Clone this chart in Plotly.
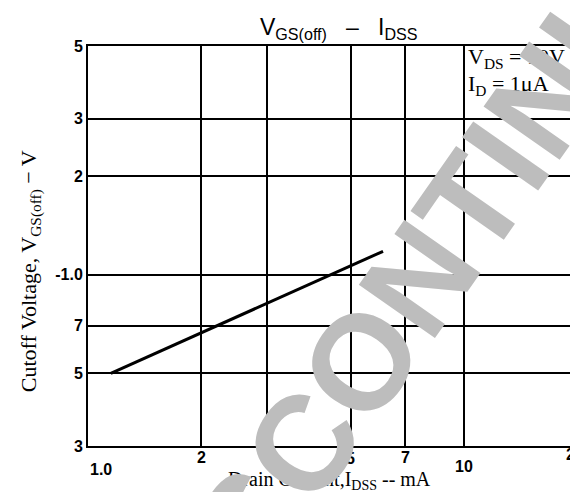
import math
import plotly.graph_objects as go

# ---- data ----
idss_ma = [1.15, 6.1]          # Drain current I_DSS (mA)
vgs_off = [0.5, 1.18]          # Cutoff voltage |V_GS(off)| (V)

x_tickvals = [1, 2, 3, 5, 7, 10, 20]
x_ticktext = ["1.0", "2", "3", "5", "7", "10", "2"]
y_tickvals = [0.3, 0.5, 0.7, 1.0, 2, 3, 5]
y_ticktext = ["3", "5", "7", "-1.0", "2", "3", "5"]

title_text = "V<sub>GS(off)</sub>\u00a0\u00a0\u00a0\u2013\u00a0\u00a0\u00a0I<sub>DSS</sub>"
x_title = "Drain Current,I<sub>DSS</sub> -- mA"
y_title = "Cutoff Voltage, V<sub>GS(off)</sub> \u2212 V"
cond_lines = ["V<sub>DS</sub> = 10V", "I<sub>D</sub> = 1\u03bcA"]
watermark = "DISCONTINUED"

# ---- layout / style (pixel positions of the scanned labels) ----
x_label_py = [461, 449, 450, 450, 449, 458, 446]
x_label_anchor = ["left", "center", "center", "center", "center", "center", "right"]

W, H = 578, 492
L, R, T, B = 80, 6, 38, 54
pw, ph = W - L - R, H - T - B

def px(xp):
    return (xp - L) / pw

def py(yp):
    return (H - B - yp) / ph

fig = go.Figure()
fig.add_trace(go.Scatter(x=idss_ma, y=vgs_off, mode="lines",
                         line=dict(color="black", width=3), showlegend=False))

tickfont = dict(family="Liberation Sans, Arial", size=16, color="black", weight="bold")
axis_style = dict(type="log", showgrid=True, gridcolor="black", gridwidth=1.5,
                  showline=True, linecolor="black", linewidth=2, mirror=True,
                  ticks="", tickfont=tickfont, zeroline=False)
fig.update_xaxes(range=[0, math.log10(20.15)], tickvals=x_tickvals,
                 showticklabels=False, **axis_style)
fig.update_yaxes(range=[math.log10(0.3), math.log10(5)], tickvals=y_tickvals,
                 ticktext=y_ticktext, **axis_style)

# x tick labels placed on the axis values
for v, t, yp, anc in zip(x_tickvals, x_ticktext, x_label_py, x_label_anchor):
    fig.add_annotation(text=t, x=math.log10(v), xref="x", y=py(yp), yref="paper",
                       xanchor=anc, yanchor="middle", showarrow=False, font=tickfont)

# white box behind the condition text
fig.add_shape(type="rect", xref="paper", yref="paper", layer="between",
              x0=px(455), x1=1, y0=py(89), y1=1, fillcolor="white", line=dict(width=0))

serif = "Liberation Serif, Times New Roman, serif"
annotations = [
    dict(text=title_text, x=px(332), y=py(20), font=dict(family="Liberation Sans, Arial", size=23)),
    dict(text=x_title, x=px(322), y=py(473), font=dict(family=serif, size=20)),
    dict(text=y_title, x=px(22), y=py(263), textangle=-90, font=dict(family=serif, size=22)),
    dict(text=cond_lines[0], x=px(460), y=py(50), xanchor="left", font=dict(family=serif, size=22)),
    dict(text=cond_lines[1], x=px(460), y=py(77), xanchor="left", font=dict(family=serif, size=22)),
    dict(text=watermark, x=px(434), y=py(240), textangle=-55,
         font=dict(family="Liberation Sans, Arial", size=135, color="#bdbdbd", weight="bold")),
]
for a in annotations:
    a.setdefault("xanchor", "center")
    a.update(xref="paper", yref="paper", showarrow=False, yanchor="middle")
    a["font"].setdefault("color", "black")
    fig.add_annotation(**a)

fig.update_layout(width=W, height=H, margin=dict(l=L, r=R, t=T, b=B),
                  plot_bgcolor="white", paper_bgcolor="white", showlegend=False)
fig.write_html("out.html")
